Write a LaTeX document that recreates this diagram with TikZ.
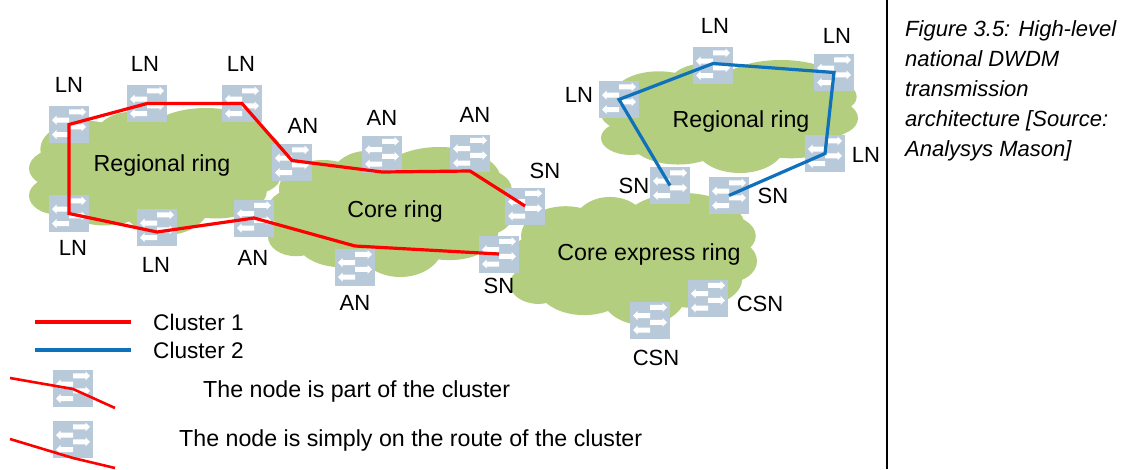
\documentclass[tikz,border=0pt]{standalone}
\usepackage{fontspec}
\setmainfont{Liberation Sans}
\definecolor{cloudgreen}{HTML}{B3CE7E}
\definecolor{swblue}{HTML}{B8CAD9}
\definecolor{routered}{HTML}{FF0000}
\definecolor{routeblue}{HTML}{0F70BC}
\tikzset{
  swbox/.style={draw=none,fill=swblue,minimum width=40pt,minimum height=37pt,inner sep=0pt,outer sep=0pt},
  lbl/.style={font=\fontsize{22}{26}\selectfont,inner sep=0pt,text=black},
  leglbl/.style={font=\fontsize{22.6}{26}\selectfont,inner sep=0pt,text=black},
  ringlbl/.style={font=\fontsize{23.2}{27}\selectfont,inner sep=0pt,text=black},
  redroute/.style={draw=routered,line width=3.2pt,line join=miter},
  blueroute/.style={draw=routeblue,line width=3.2pt,line join=miter},
}
\newcommand{\rarrow}[2]{\fill[white] (#1,#2-2.5) -- (#1+12.5,#2-2.5) -- (#1+12.5,#2-4.5) -- (#1+17,#2) -- (#1+12.5,#2+4.5) -- (#1+12.5,#2+2.5) -- (#1,#2+2.5) -- cycle;}
\newcommand{\larrow}[2]{\fill[white] (#1,#2-2.5) -- (#1-12.5,#2-2.5) -- (#1-12.5,#2-4.5) -- (#1-17,#2) -- (#1-12.5,#2+4.5) -- (#1-12.5,#2+2.5) -- (#1,#2+2.5) -- cycle;}
\newcommand{\sw}[3]{%
  \node[swbox] (#1) at (#2,#3) {};
  \begin{scope}[shift={(#2,#3)}]
    \rarrow{0}{-12.7}\larrow{0}{-4.3}\rarrow{0}{2.3}\larrow{0}{10}
  \end{scope}}
\newcommand{\cloudpath}{
      (0,0) ellipse [x radius=.85,y radius=.75]
      (-.55,-.35) ellipse [x radius=.36,y radius=.45]
      (-.19,-.50) ellipse [x radius=.30,y radius=.44]
      (.40,-.50) ellipse [x radius=.50,y radius=.50]
      (.72,-.35) ellipse [x radius=.27,y radius=.32]
      (.76,.03) ellipse [x radius=.24,y radius=.33]
      (.48,.30) ellipse [x radius=.40,y radius=.44]
      (.08,.50) ellipse [x radius=.35,y radius=.50]
      (-.40,.40) ellipse [x radius=.38,y radius=.45]
      (-.77,.38) ellipse [x radius=.23,y radius=.30]
      (-.72,-.05) ellipse [x radius=.28,y radius=.33]}
\newcommand{\cloudshape}[4]{%
  \begin{scope}[shift={(#1,#2)},xscale=#3,yscale=#4]
    \draw[white,line width=2.5pt] \cloudpath;
    \fill[cloudgreen] \cloudpath;
  \end{scope}}
\begin{document}
\begin{tikzpicture}[x=1pt,y=-1pt]
\useasboundingbox (0,0) rectangle (1137,469);
% clouds
\cloudshape{155.5}{171.5}{126.5}{63.5}
\cloudshape{390.5}{212}{122.5}{65}
\cloudshape{633.5}{259}{123.5}{66}
\cloudshape{729.5}{116.5}{128.5}{56.5}
% ring labels
\node[ringlbl] (rr1) at (162,165) {Regional ring};
\node[ringlbl] (cr) at (395,211) {Core ring};
\node[ringlbl] (cer) at (649,254) {Core express ring};
\node[ringlbl] (rr2) at (741,121) {Regional ring};
% switches
\sw{ln1}{69}{124.5}
\sw{ln2}{147}{103.5}
\sw{ln3}{242}{103.5}
\sw{an1}{292}{162.5}
\sw{ln4}{69}{213.5}
\sw{ln5}{157}{227.5}
\sw{an2}{254}{218}
\sw{an3}{382}{154}
\sw{an4}{470}{153}
\sw{sn1}{525}{206}
\sw{sn2}{499}{254}
\sw{an5}{355}{267}
\sw{csn1}{708}{298}
\sw{csn2}{650}{320}
\sw{ln6}{619}{99.5}
\sw{ln7}{713}{65.5}
\sw{ln8}{834}{72.5}
\sw{ln9}{825}{153.5}
\sw{sn3}{670}{185.5}
\sw{sn4}{729}{195.5}
\sw{lga}{73}{388.5}
\sw{lgb}{73}{439.5}
% routes
\draw[redroute]
  (sn1.center) -- ([yshift=-18pt]an4.center) -- ([yshift=-18pt]an3.center)
  -- ([yshift=2pt]an1.center) -- (ln3.center) -- (ln2.center) -- (ln1.center)
  -- (ln4.center) -- ([yshift=-4.5pt]ln5.center) -- (an2.center)
  -- ([yshift=21pt]an5.center) -- (sn2.center);
\draw[blueroute] (sn3.center) -- (ln6.center) -- ([yshift=2pt]ln7.center)
  -- (ln8.center) -- (ln9.center) -- (sn4.center);
% text labels
\node[lbl] (t1) at (69,85) {LN};
\node[lbl] (t2) at (145,64) {LN};
\node[lbl] (t3) at (241,64) {LN};
\node[lbl] (t4) at (303,126) {AN};
\node[lbl] (t5) at (382,118) {AN};
\node[lbl] (t6) at (475,115) {AN};
\node[lbl] (t7) at (545,171) {SN};
\node[lbl] (t8) at (579,95) {LN};
\node[lbl] (t9) at (715,26) {LN};
\node[lbl] (t10) at (837,36) {LN};
\node[lbl] (t11) at (866,155) {LN};
\node[lbl] (t12) at (634,186) {SN};
\node[lbl] (t13) at (773,196) {SN};
\node[lbl] (t14) at (73,248) {LN};
\node[lbl] (t15) at (156,265) {LN};
\node[lbl] (t16) at (253,258) {AN};
\node[lbl] (t17) at (355,303) {AN};
\node[lbl] (t18) at (499,286) {SN};
\node[lbl] (t19) at (760,304) {CSN};
\node[lbl] (t20) at (656,358) {CSN};
% legend
\coordinate (la) at (35,322); \coordinate (lb) at (131,322);
\coordinate (lc) at (35,350); \coordinate (ld) at (131,350);
\draw[redroute] (la) -- (lb);
\draw[blueroute] (lc) -- (ld);
\node[leglbl,anchor=west] (l1) at (153,322) {Cluster 1};
\node[leglbl,anchor=west] (l2) at (153,350) {Cluster 2};
\coordinate (m1) at (10,378); \coordinate (m2) at (115,408);
\coordinate (m3) at (10,439); \coordinate (m4) at (115,468);
\draw[redroute,line width=2.6pt] (m1) -- ([yshift=-0.5pt]lga.center) -- (m2);
\draw[redroute,line width=2.6pt] (m3) -- ([yshift=-18.5pt]lgb.center) -- (m4);
\node[leglbl,font=\fontsize{23.2}{26}\selectfont,anchor=west] (l3) at (203,391) {The node is part of the cluster};
\node[leglbl,font=\fontsize{23.2}{26}\selectfont,anchor=west] (l4) at (179,440) {The node is simply on the route of the cluster};
% divider and caption
\coordinate (d1) at (887,0); \coordinate (d2) at (887,469);
\draw[black,line width=1.8pt] (d1) -- (d2);
\node[anchor=north west,align=left,inner sep=0pt,font=\fontsize{22}{30}\selectfont\itshape] (cap) at (905,20)
 {Figure 3.5: High-level\\national DWDM\\transmission\\architecture [Source:\\Analysys Mason]};
\end{tikzpicture}
\end{document}
